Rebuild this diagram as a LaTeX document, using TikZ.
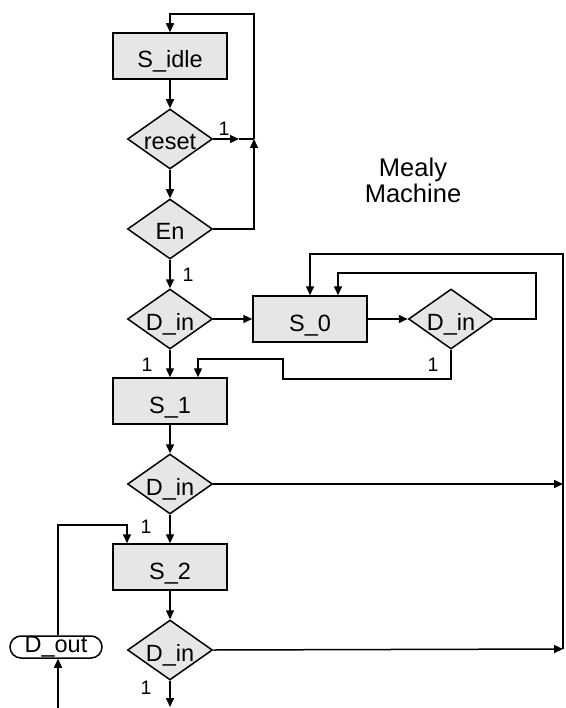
\documentclass[tikz,border=0pt]{standalone}
\usepackage{fontspec}
\setmainfont{Liberation Sans}
\usetikzlibrary{shapes.geometric,arrows.meta}
\definecolor{boxgray}{RGB}{230,230,230}
\tikzstyle{state} = [rectangle, draw=black, fill=boxgray, line width=1.5pt, minimum width=114pt, minimum height=46pt, text height=24pt, text depth=0pt, font=\fontsize{23.5}{26}\selectfont]
\tikzstyle{test} = [diamond, draw=black, fill=boxgray, line width=1.5pt, inner sep=0pt, aspect=1.42, minimum width=85pt, minimum height=60pt, text height=22pt, text depth=0pt, font=\fontsize{23.5}{26}\selectfont]
\tikzstyle{line} = [draw, line width=1.5pt]
\tikzstyle{arrow} = [line width=1.5pt, -{Triangle[length=9pt,width=8pt]}]
\tikzstyle{one} = [font=\fontsize{19.5}{20}\selectfont]

\begin{document}
\begin{tikzpicture}[x=1pt, y=-1pt]
        \useasboundingbox (0,0) rectangle (565,708);
        
        \node (idle) [state] at (170,56) {S\_idle};
        \node (reset) [test] at (170,139) {reset};
        \node (en) [test] at (170,229) {En};
        \node (din1) [test] at (170,319) {D\_in};
        \node (s0) [state] at (310,319) {S\_0};
        \node (din2) [test] at (451,319) {D\_in};
        \node (s1) [state] at (170,401) {S\_1};
        \node (din3) [test] at (170,484) {D\_in};
        \node (s2) [state] at (170,567) {S\_2};
        \node (din4) [test] at (170,650) {D\_in};
        \node (dout) [rectangle, draw=black, line width=1.5pt, rounded corners=11pt, minimum width=92pt, minimum height=22pt, inner sep=0pt, font=\fontsize{23.5}{26}\selectfont] at (56,647) {D\_out};
        
        \node (mealy) [align=center, font=\fontsize{25.5}{26}\selectfont] at (413,180) {Mealy \\ Machine};
        
        \coordinate (j1) at (254,139);
        \coordinate (tip1) at (239,139);
        \coordinate (top) at (254,14);
        \coordinate (loop) at (536,273);
        \coordinate (b1) at (283,379);
        \coordinate (r1) at (563,484);
        \coordinate (r2) at (563,649);
        \coordinate (rtop) at (563,254);
        \coordinate (out) at (170,707);
        \coordinate (in) at (58,708);
        
        % idle loop
        \draw[arrow] (idle) -- (reset);
        \draw[arrow] (reset) -- (en);
        \draw[arrow] (reset.east) -- (tip1);
        \draw[line] (tip1) -- (j1);
        \draw[arrow] (en.east) -| (j1);
        \draw[arrow] (j1) -- (top) -| (idle.north);
        
        % S_0
        \draw[arrow] (en) -- (din1);
        \draw[arrow] (din1) -- (s0);
        \draw[arrow] (s0) -- (din2);
        \draw[arrow] (din2.east) -| (loop) -| ([xshift=28pt]s0.north);
        \draw[arrow] (din1) -- (s1);
        \draw[arrow] (din2.south) |- (b1) |- (198,359) -- ([xshift=28pt]s1.north);
        
        % S_1, S_2
        \draw[arrow] (s1) -- (din3);
        \draw[arrow] (din3.east) -- (r1);
        \draw[arrow] (din3) -- (s2);
        \draw[arrow] (s2) -- (din4);
        \draw[arrow] (din4.east) -- (r2);
        \draw[arrow] (r2) -- (rtop) -| (s0.north);
        \draw[arrow] (din4) -- (out);
        \draw[arrow] (in) -- (dout.south -| in);
        \draw[arrow] (dout.north -| in) |- (127,525) -- ([xshift=-43pt]s2.north);
        
        \node (l1) [one] at (224,129) {1};
        \node (l2) [one] at (188,275) {1};
        \node (l3) [one] at (147,365) {1};
        \node (l4) [one] at (433,365) {1};
        \node (l5) [one] at (146,527) {1};
        \node (l6) [one] at (146,688) {1};
        
    \end{tikzpicture}
\end{document}
